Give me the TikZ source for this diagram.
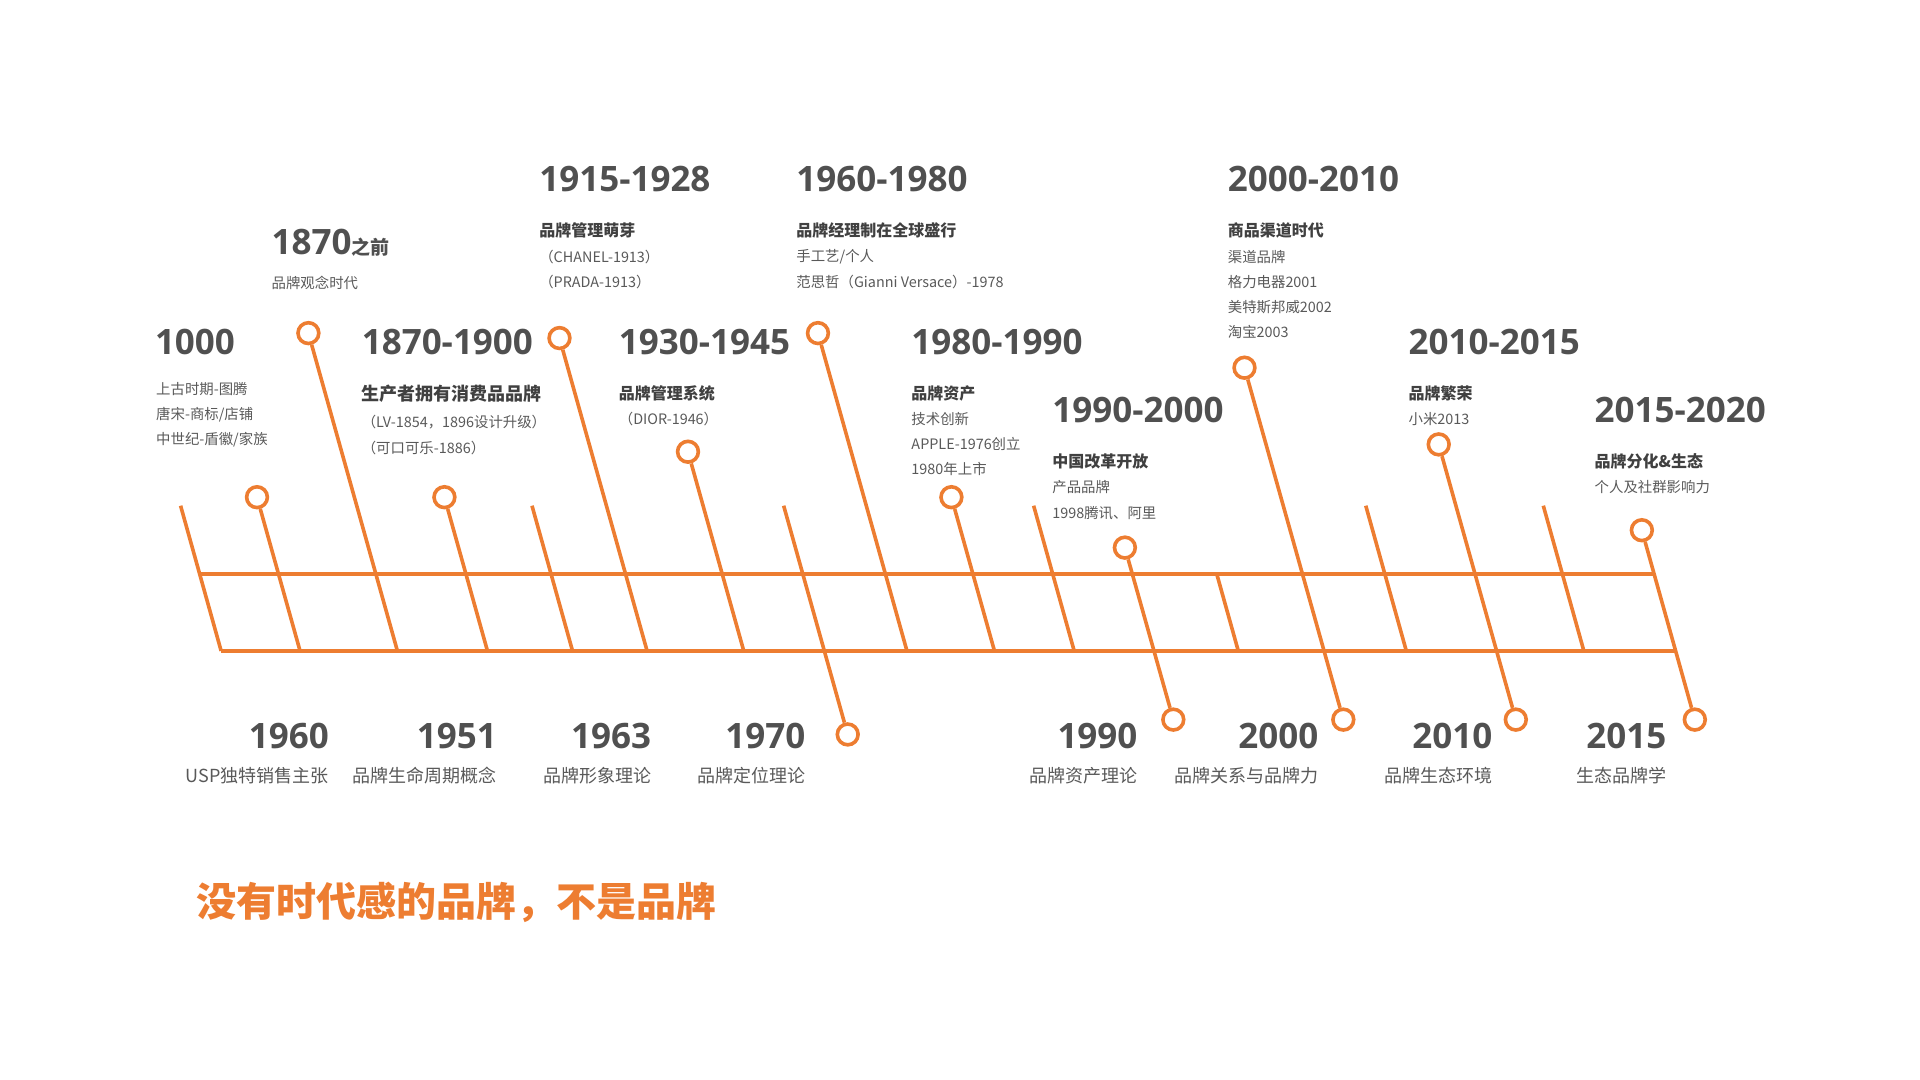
\documentclass[tikz,border=0pt]{standalone}
\usepackage{fontspec}
\setmainfont{Noto Sans CJK SC}
\newfontfamily\numfont{Open Sans}
\usepackage{tikz}
\usetikzlibrary{positioning}

\definecolor{brandorange}{HTML}{ED7D31}
\definecolor{titlegray}{HTML}{505050}
\definecolor{subgray}{HTML}{404040}
\definecolor{textgray}{HTML}{595959}

\begin{document}
\begin{tikzpicture}[x=0.49427pt,y=-0.49427pt, line width=1.8pt, draw=brandorange]

    \tikzstyle{dot}=[circle, draw=brandorange, fill=white, line width=1.8pt, minimum size=10.4pt, inner sep=0pt]
    \tikzstyle{era}=[anchor=west, inner sep=0pt, text=titlegray, font=\numfont\bfseries\fontsize{17.5pt}{20pt}\selectfont]
    \tikzstyle{year}=[era, anchor=east]
    \tikzstyle{sub}=[anchor=west, inner sep=0pt, text=subgray, font=\bfseries\fontsize{8pt}{10pt}\selectfont]
    \tikzstyle{body}=[anchor=west, inner sep=0pt, text=textgray, font=\fontsize{7.2pt}{9pt}\selectfont]
    \tikzstyle{theory}=[anchor=east, inner sep=0pt, text=textgray, font=\fontsize{9pt}{11pt}\selectfont]

    \useasboundingbox (0,0) rectangle (1942.4,1092.6);

    % the two rails
    \coordinate (u0) at (202,580.5);
    \coordinate (u1) at (1673.3,580.5);
    \coordinate (l0) at (223.7,658.5);
    \coordinate (l1) at (1695.2,658.5);
    \draw (u0) -- (u1);
    \draw (l0) -- (l1);

    % plain sticks
    \foreach \x [count=\i] in {223.7,579.2,1086.7,1422.7,1602.3} {
        \coordinate (k\i) at ({\x-41},511.6);
        \coordinate (kb\i) at (\x,658.5);
        \draw (k\i) -- (kb\i);
    }
    \coordinate (m0) at (1230.9,580.5);
    \coordinate (m1) at (1252.7,658.5);
    \draw (m0) -- (m1);

    % pins ending on the lower rail
    \foreach \n/\x/\y in {1/260/503, 2/312/337, 3/449.6/503, 4/566/342, 5/696/457, 6/827.5/337, 7/962.5/503} {
        \node[dot] (c\n) at (\x,\y) {};
        \coordinate (e\n) at ({\x+0.28*(658.5-\y)},658.5);
        \draw (c\n) -- (e\n);
    }

    % pins running through both rails
    \coordinate (k0) at (792.8,511.6);
    \node[dot] (d0) at (857.6,743) {};
    \draw (k0) -- (d0);
    \foreach \n/\x/\y/\xx in {8/1138/554/1187, 9/1259/372/1359, 10/1455.5/449.6/1533.5, 11/1661/536.4/1714.6} {
        \node[dot] (c\n) at (\x,\y) {};
        \node[dot] (d\n) at (\xx,728) {};
        \draw (c\n) -- (d\n);
    }

    % eras above the rails
    \node[era] (t1) at (155,345.6) {1000};
    \foreach \t [count=\i from 0] in {上古时期-图腾, 唐宋-商标/店铺, 中世纪-盾徽/家族}
        \node[body] (b1\i) at ([xshift=0.6pt, yshift={-23.9pt-12.55pt*\i}]t1.west) {\t};

    \node[era] (t2) at (273,245.3) {1870{\rmfamily\fontsize{9.5pt}{11pt}\selectfont 之前}};
    \node[body] (b20) [below=20.2pt of t2.west, anchor=west] {品牌观念时代};

    \node[era] (t3) at (364.2,345.6) {1870-1900};
    \node[sub, font=\bfseries\fontsize{9pt}{11pt}\selectfont] (s3) [below=26.2pt of t3.west, anchor=west] {生产者拥有消费品品牌};
    \foreach \t [count=\i from 0] in {（LV-1854，1896设计升级）, （可口可乐-1886）}
        \node[body] (b3\i) at ([yshift={-14pt-12.85pt*\i}]s3.west) {\t};

    \node[era] (t4) at (543.8,180.9) {1915-1928};
    \node[sub] (s4) [below=25.7pt of t4.west, anchor=west] {品牌管理萌芽};
    \foreach \t [count=\i from 0] in {（CHANEL-1913）, （PRADA-1913）}
        \node[body] (b4\i) at ([yshift={-13.3pt-12.55pt*\i}]s4.west) {\t};

    \node[era] (t5) at (624.3,345.6) {1930-1945};
    \node[sub] (s5) [below=25.7pt of t5.west, anchor=west] {品牌管理系统};
    \node[body] (b50) at ([yshift=-12.9pt]s5.west) {（DIOR-1946）};

    \node[era] (t6) at (803.9,180.9) {1960-1980};
    \node[sub] (s6) [below=25.7pt of t6.west, anchor=west] {品牌经理制在全球盛行};
    \foreach \t [count=\i from 0] in {手工艺/个人, 范思哲（Gianni Versace）-1978}
        \node[body] (b6\i) at ([yshift={-13.3pt-12.55pt*\i}]s6.west) {\t};

    \node[era] (t7) at (920.3,345.6) {1980-1990};
    \node[sub] (s7) [below=25.7pt of t7.west, anchor=west] {品牌资产};
    \foreach \t [count=\i from 0] in {技术创新, APPLE-1976创立, 1980年上市}
        \node[body] (b7\i) at ([yshift={-12.9pt-12.55pt*\i}]s7.west) {\t};

    \node[era] (t8) at (1062.8,415) {1990-2000};
    \node[sub] (s8) [below=25.7pt of t8.west, anchor=west] {中国改革开放};
    \foreach \t [count=\i from 0] in {产品品牌, 1998腾讯、阿里}
        \node[body] (b8\i) at ([yshift={-12.9pt-12.85pt*\i}]s8.west) {\t};

    \node[era] (t9) at (1240.4,180.9) {2000-2010};
    \node[sub] (s9) [below=25.7pt of t9.west, anchor=west] {商品渠道时代};
    \foreach \t [count=\i from 0] in {渠道品牌, 格力电器2001, 美特斯邦威2002, 淘宝2003}
        \node[body] (b9\i) at ([yshift={-13.3pt-12.55pt*\i}]s9.west) {\t};

    \node[era] (t10) at (1423.2,345.6) {2010-2015};
    \node[sub] (s10) [below=25.7pt of t10.west, anchor=west] {品牌繁荣};
    \node[body] (b100) at ([yshift=-12.9pt]s10.west) {小米2013};

    \node[era] (t11) at (1611.5,415) {2015-2020};
    \node[sub] (s11) [below=25.7pt of t11.west, anchor=west] {品牌分化\&生态};
    \node[body] (b110) at ([yshift=-12.9pt]s11.west) {个人及社群影响力};

    % theories below the rails
    \foreach \x/\y/\t [count=\i] in {334.5/1960/USP独特销售主张, 504.5/1951/品牌生命周期概念, 660.5/1963/品牌形象理论, 816.5/1970/品牌定位理论, 1152.5/1990/品牌资产理论, 1335.5/2000/品牌关系与品牌力, 1511.5/2010/品牌生态环境, 1687.5/2015/生态品牌学} {
        \node[year] (y\i) at (\x,745) {\y};
        \node[theory] (n\i) [below=19.8pt of y\i.east, anchor=east] {\t};
    }

    \node[anchor=west, inner sep=0pt, text=brandorange, font=\bfseries\fontsize{20pt}{24pt}\selectfont] (slogan) at (197,913) {没有时代感的品牌，不是品牌};

\end{tikzpicture}
\end{document}
